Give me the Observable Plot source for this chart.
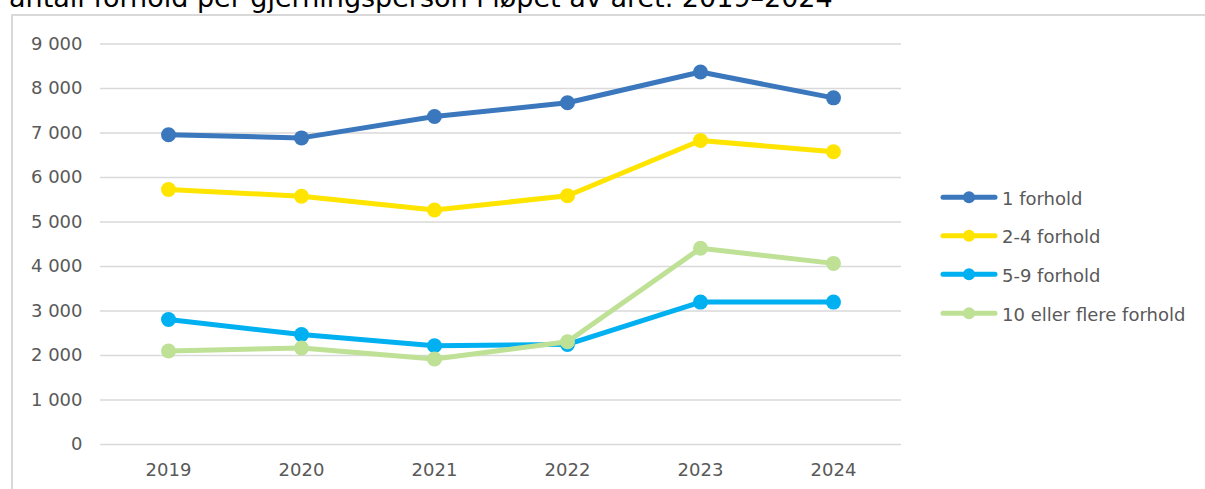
<!DOCTYPE html>
<html>
<head>
<meta charset="utf-8">
<script src="https://cdn.jsdelivr.net/npm/d3@7"></script>
<script src="https://cdn.jsdelivr.net/npm/@observablehq/plot@0.6"></script>
<style>
  html, body { margin: 0; padding: 0; background: #fff; width: 1205px; height: 489px; overflow: hidden; }
  #wrap { position: relative; width: 1205px; height: 489px; }
  #title { position: absolute; left: 9px; top: -16px; font: 27px "DejaVu Sans", Verdana, sans-serif; line-height: 27px; color: #000; white-space: nowrap; }
  #frame { position: absolute; left: 11px; top: 14px; width: 1300px; height: 600px; border: 2px solid #d9d9d9; box-sizing: border-box; }
  #chart { position: absolute; left: 0; top: 0; }
  #legend { position: absolute; left: 0; top: 0; }
</style>
</head>
<body>
<div id="wrap">
  <div id="frame"></div>
  <div id="title">antall forhold per gjerningsperson i løpet av året. 2019–2024</div>
  <div id="chart"></div>
  <svg id="legend" width="1205" height="489"></svg>
</div>
<script>
const years = [2019, 2020, 2021, 2022, 2023, 2024];
const seriesNames = ["1 forhold", "2-4 forhold", "5-9 forhold", "10 eller flere forhold"];
const oneCase = [6960, 6890, 7370, 7680, 8370, 7790];
const twoToFour = [5730, 5580, 5270, 5590, 6830, 6580];
const fiveToNine = [2810, 2470, 2220, 2250, 3200, 3200];
const tenOrMore = [2100, 2170, 1920, 2310, 4410, 4070];
const yTicks = [0, 1000, 2000, 3000, 4000, 5000, 6000, 7000, 8000, 9000];
const colors = ["#3a77bd", "#ffe400", "#00b0f0", "#bee196"];

const seriesValues = [oneCase, twoToFour, fiveToNine, tenOrMore];
const rows = seriesNames.flatMap((s, i) => years.map((yr, j) => ({series: s, year: yr, value: seriesValues[i][j]})));

const fmt = d => d3.format(",")(d).replace(/,/g, "\u00a0");

const seriesMarks = seriesNames.flatMap((s, i) => {
  const data = rows.filter(r => r.series === s);
  return [
    Plot.line(data, {x: "year", y: "value", stroke: colors[i], strokeWidth: 5, strokeLinejoin: "round", strokeLinecap: "round"}),
    Plot.dot(data, {x: "year", y: "value", fill: colors[i], r: 7.5, stroke: "none"})
  ];
});

const chart = Plot.plot({
  width: 1205,
  height: 489,
  marginLeft: 100,
  marginRight: 304,
  marginTop: 43.5,
  marginBottom: 45,
  style: {fontFamily: "'DejaVu Sans', Verdana, sans-serif", fontSize: "18px", color: "#595959", background: "transparent", overflow: "visible"},
  x: {type: "point", domain: years, padding: 0.5, label: null},
  y: {domain: [0, 9000], label: null},
  marks: [
    Plot.ruleY(yTicks, {stroke: "#d9d9d9", strokeWidth: 1.5, strokeOpacity: 1}),
    Plot.axisY(yTicks, {tickSize: 0, tickPadding: 18, tickFormat: fmt, fontSize: 18, fill: "#595959", label: null}),
    Plot.axisX(years, {tickSize: 0, tickPadding: 19, tickFormat: d => String(d), fontSize: 18, fill: "#595959", label: null}),
    ...seriesMarks
  ]
});
document.getElementById("chart").appendChild(chart);

// legend
const lg = d3.select("#legend");
const legendY = [197.3, 235.8, 274.3, 313.3];
seriesNames.forEach((s, i) => {
  const cy = legendY[i];
  lg.append("line").attr("x1", 943).attr("x2", 995).attr("y1", cy).attr("y2", cy)
    .attr("stroke", colors[i]).attr("stroke-width", 5).attr("stroke-linecap", "round");
  lg.append("circle").attr("cx", 969).attr("cy", cy).attr("r", 6).attr("fill", colors[i]);
  lg.append("text").attr("x", 1002).attr("y", cy + 7.5).text(s)
    .attr("font-family", "'DejaVu Sans', Verdana, sans-serif").attr("font-size", 18).attr("fill", "#595959");
});
</script>
</body>
</html>
